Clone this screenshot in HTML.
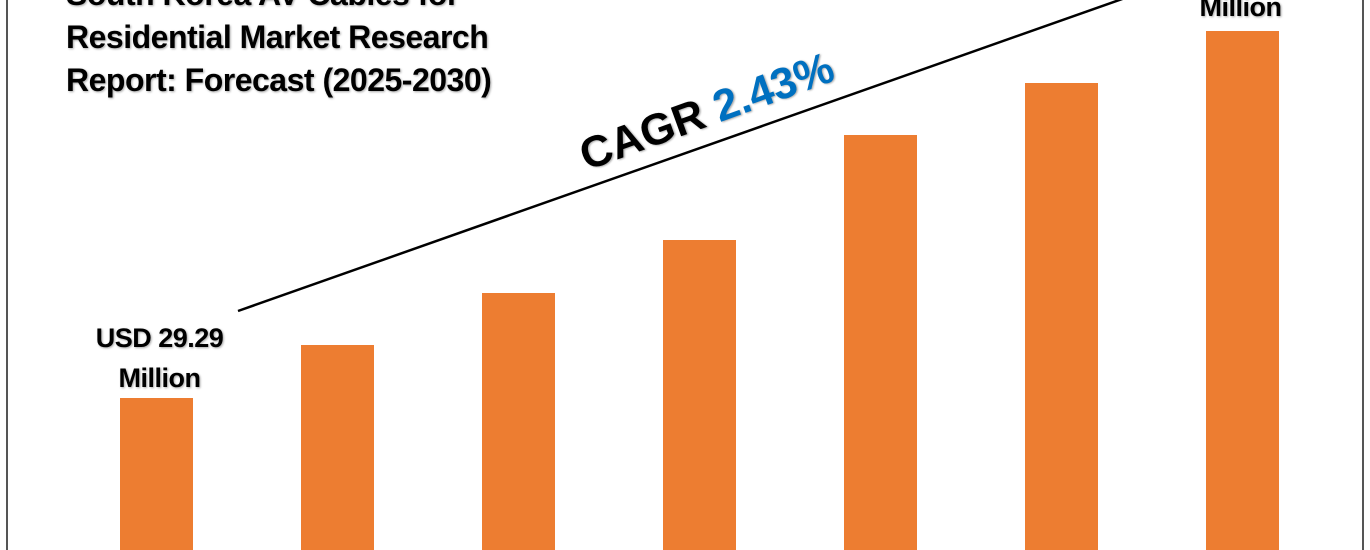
<!DOCTYPE html>
<html><head><style>
html,body{margin:0;padding:0;background:#fff;}
#c{position:relative;width:1370px;height:550px;overflow:hidden;background:#fff;font-family:"Liberation Sans",sans-serif;font-weight:bold;}
.bar{position:absolute;background:#ED7D31;bottom:0;width:73px;}
.t{position:absolute;color:#000;text-shadow:1px 1px 2px rgba(0,0,0,0.35);white-space:nowrap;}
</style></head><body><div id="c">
<div style="position:absolute;left:6px;top:0;width:2px;height:550px;background:#555"></div>
<div style="position:absolute;left:1362px;top:0;width:2px;height:550px;background:#555"></div>
<div class="t" style="left:66px;top:-27px;font-size:32px;line-height:43px;letter-spacing:-0.5px">South Korea AV Cables for<br>Residential Market Research<br>Report: Forecast (2025-2030)</div>
<div class="bar" style="left:120px;height:152px"></div>
<div class="bar" style="left:301px;height:205px"></div>
<div class="bar" style="left:482px;height:257px"></div>
<div class="bar" style="left:663px;height:310px"></div>
<div class="bar" style="left:844px;height:415px"></div>
<div class="bar" style="left:1025px;height:467px"></div>
<div class="bar" style="left:1206px;height:519px"></div>
<svg style="position:absolute;left:0;top:0" width="1370" height="550"><line x1="238" y1="311" x2="1125" y2="-2" stroke="#000" stroke-width="2.5"/></svg>
<div class="t" style="left:62px;top:318px;width:195px;text-align:center;font-size:27px;line-height:40px;letter-spacing:-0.5px">USD 29.29<br>Million</div>
<div class="t" style="left:1143px;top:-13px;width:195px;text-align:center;font-size:27px;line-height:40px;letter-spacing:-0.5px">Million</div>
<div class="t" style="left:707px;top:112px;font-size:44px;transform:translate(-50%,-50%) rotate(-20deg)">CAGR <span style="color:#0070C0">2.43%</span></div>
</div></body></html>
